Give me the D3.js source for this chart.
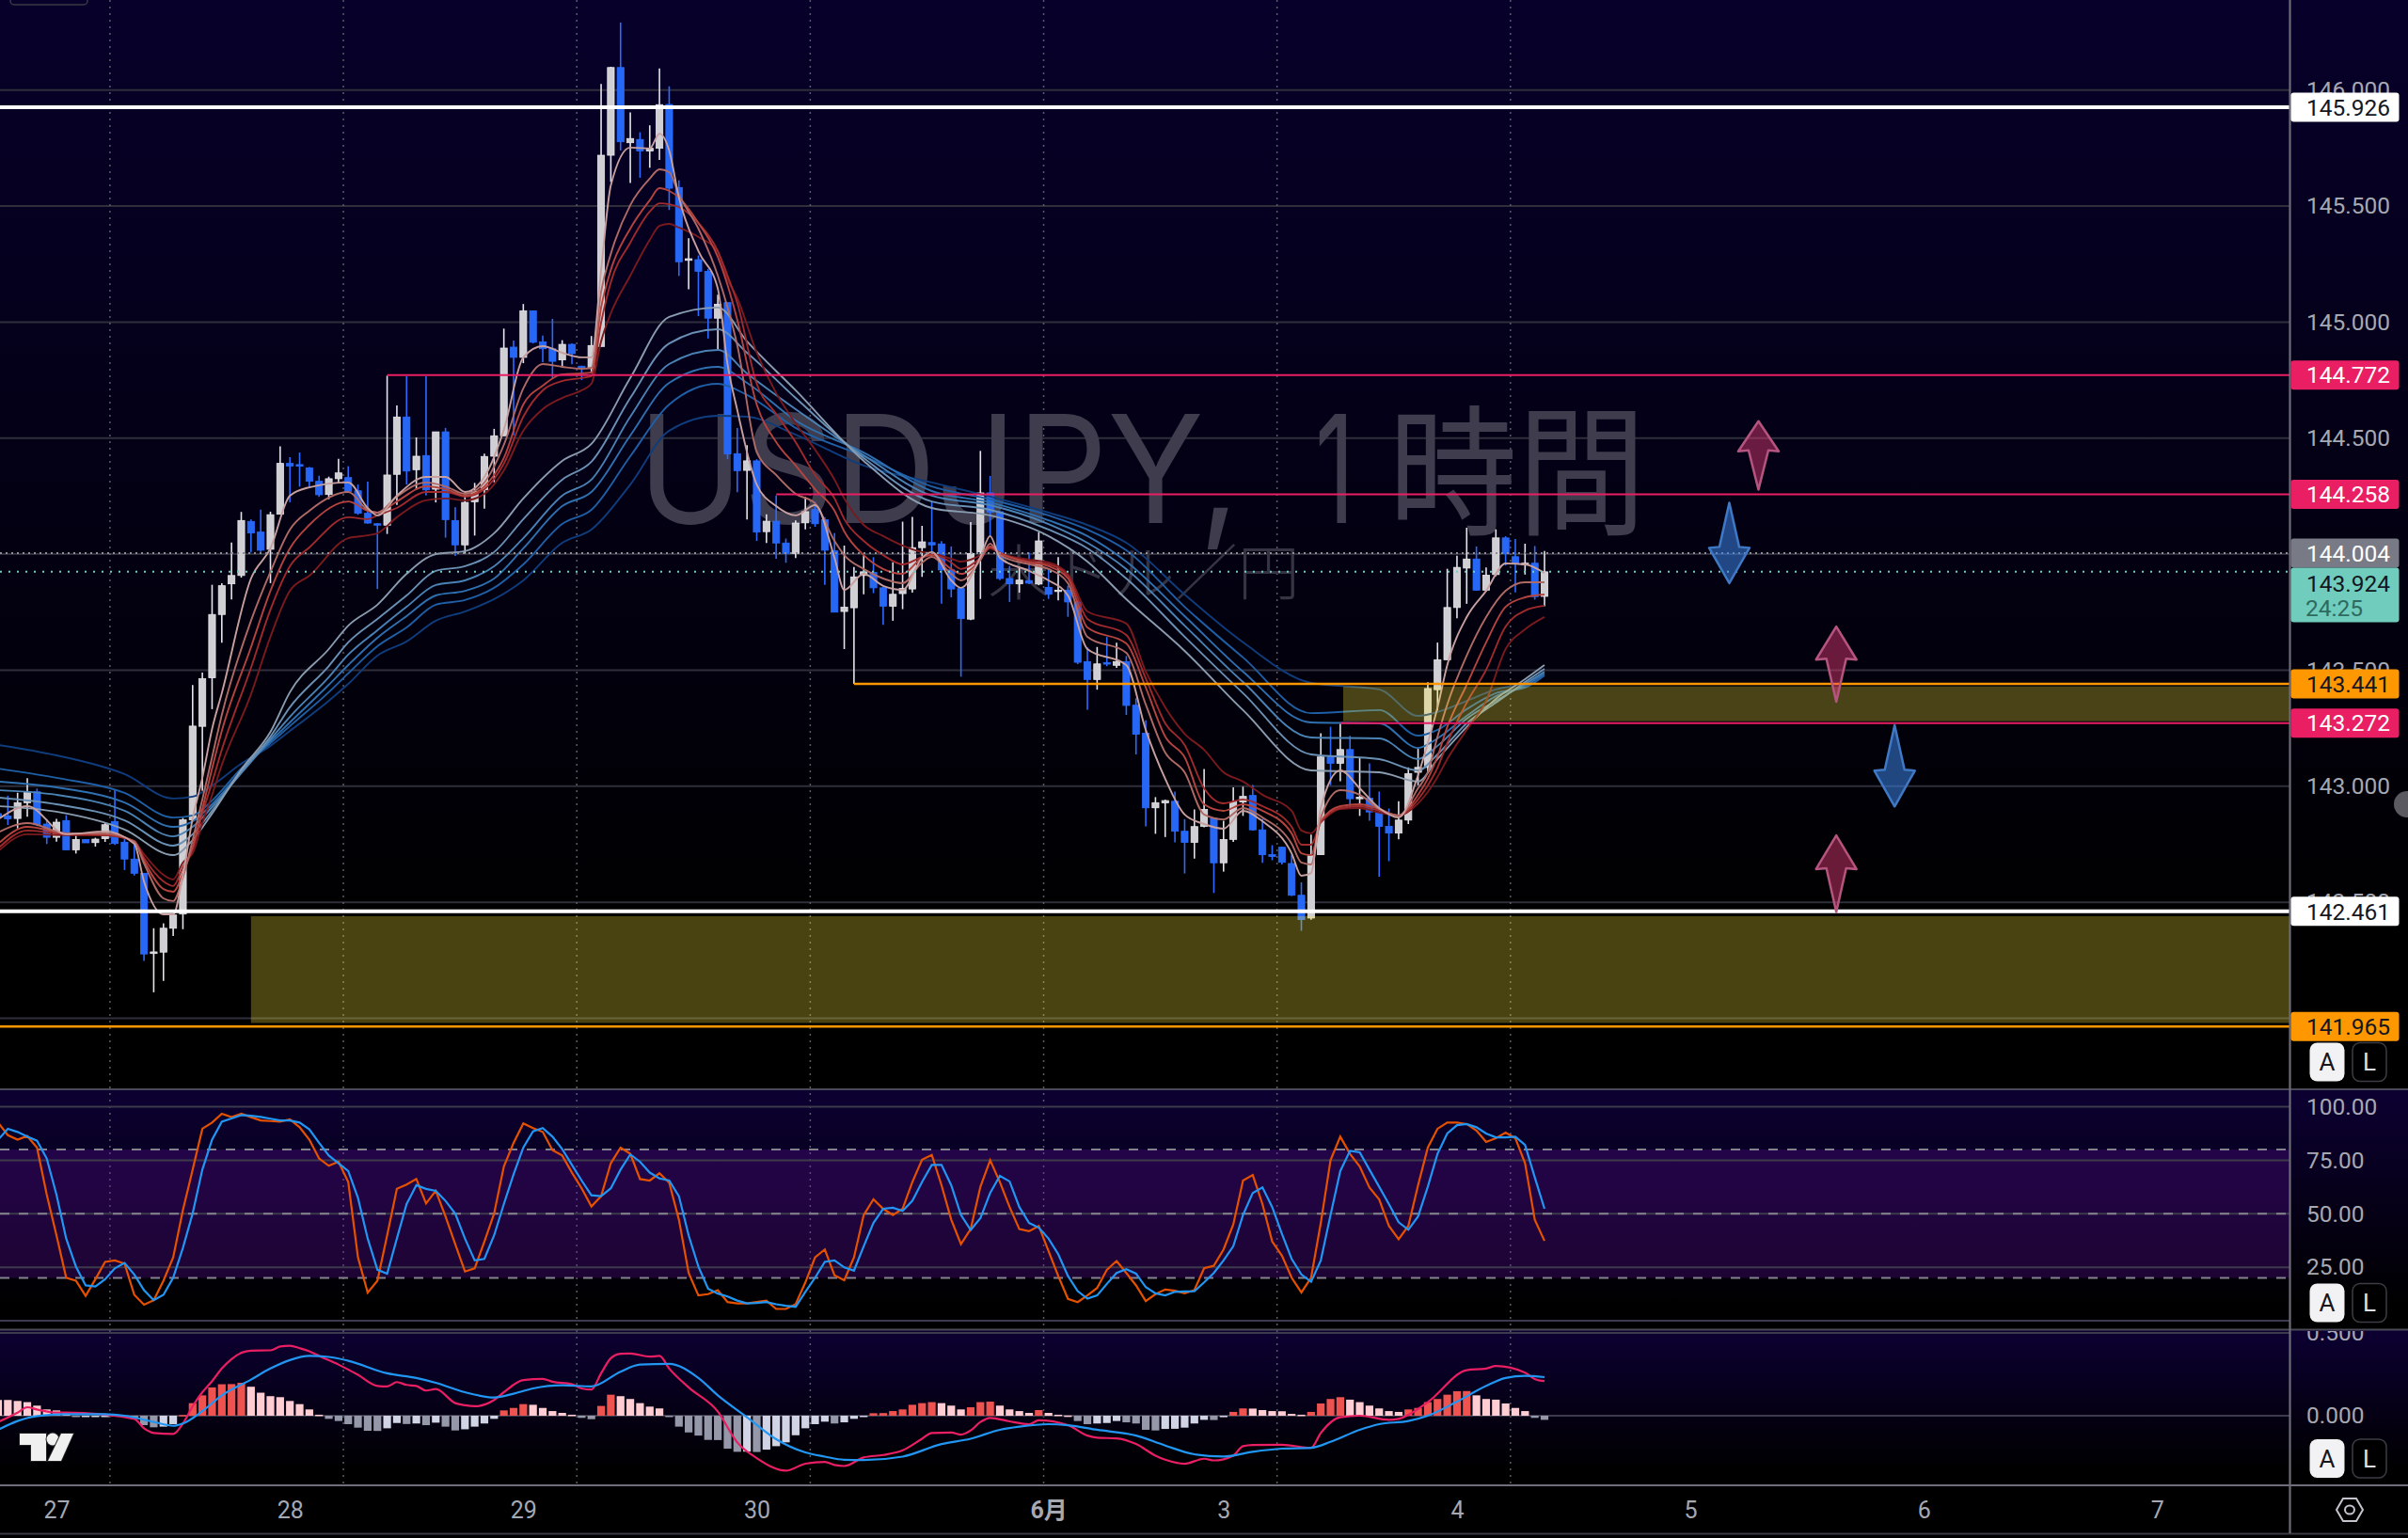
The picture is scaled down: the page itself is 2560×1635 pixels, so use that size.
<!DOCTYPE html>
<html lang="ja"><head><meta charset="utf-8">
<style>html,body{margin:0;background:#000;overflow:hidden}svg{display:block}
text{font-family:Roboto,"Noto Sans CJK JP",sans-serif}</style>
<script src="https://cdn.jsdelivr.net/npm/d3@7/dist/d3.min.js"></script></head><body>
<svg id="c" width="2560" height="1635" viewBox="0 0 2560 1635"></svg>
<script>
const opens=[142.882,142.872,142.861,142.929,142.976,142.837,142.780,142.852,142.726,142.770,142.757,142.774,142.848,142.759,142.686,142.625,142.279,142.285,142.388,142.449,142.855,143.258,143.467,143.740,143.872,143.908,144.141,144.095,144.021,144.172,144.391,144.386,144.372,144.314,144.257,144.325,144.330,144.273,144.176,144.131,144.125,144.344,144.591,144.364,144.425,144.280,144.527,144.145,144.040,144.226,144.277,144.422,144.510,144.892,144.848,145.048,144.915,144.885,144.837,144.904,144.810,144.800,144.895,145.719,146.097,145.773,145.787,145.737,145.749,145.938,145.580,145.266,145.269,145.219,145.017,145.084,144.433,144.361,144.402,144.097,144.142,144.048,144.003,144.135,144.192,144.148,144.014,143.753,143.769,143.908,143.922,143.855,143.776,143.830,143.850,144.028,144.050,144.044,143.932,143.852,143.720,144.010,144.264,144.183,143.895,143.872,143.886,143.871,143.857,143.840,143.845,143.794,143.537,143.460,143.533,143.521,143.537,143.349,143.228,142.907,142.928,142.935,142.806,142.758,142.827,142.862,142.670,142.771,142.932,142.960,142.812,142.705,142.737,142.667,142.530,142.432,142.705,143.126,143.099,143.158,142.946,142.949,142.886,142.827,142.798,142.854,143.060,143.081,143.416,143.545,143.770,143.940,143.979,143.845,143.912,144.070,143.989,143.954,143.961,143.818];
const highs=[142.894,142.959,142.972,143.035,142.990,142.859,142.859,142.875,142.794,142.772,142.778,142.841,142.983,142.774,142.751,142.625,142.388,142.409,142.452,142.864,143.436,143.490,143.868,143.875,144.050,144.182,144.149,144.192,144.183,144.465,144.418,144.438,144.375,144.338,144.334,144.411,144.379,144.300,144.313,144.134,144.769,144.641,144.767,144.503,144.767,144.527,144.544,144.202,144.256,144.307,144.433,144.540,144.972,144.921,145.078,145.050,144.942,145.014,144.922,144.908,144.812,144.940,146.026,146.100,146.291,145.904,145.818,145.848,146.093,146.016,145.611,145.361,145.287,145.229,145.118,145.084,144.544,144.470,144.409,144.172,144.253,144.067,144.145,144.247,144.226,144.159,144.091,144.037,143.945,143.996,143.987,143.859,143.965,144.140,144.161,144.122,144.226,144.056,144.033,143.852,144.138,144.445,144.337,144.186,143.949,143.943,144.006,144.095,143.940,143.987,143.864,143.801,143.598,143.600,143.643,143.618,143.561,143.379,143.284,142.953,142.942,142.977,142.858,142.900,143.074,142.865,142.851,142.995,142.998,143.005,142.858,142.746,142.740,142.705,142.586,142.791,143.228,143.256,143.270,143.217,143.123,143.098,142.977,142.904,142.935,143.081,143.161,143.448,143.619,143.937,143.993,144.114,144.033,143.943,144.107,144.077,144.065,144.045,144.035,144.014];
const lows=[142.857,142.833,142.818,142.868,142.828,142.751,142.761,142.726,142.710,142.756,142.740,142.760,142.747,142.639,142.615,142.247,142.112,142.161,142.355,142.384,142.855,142.980,143.332,143.618,143.805,143.899,144.007,144.010,143.875,144.172,144.223,144.291,144.284,144.247,144.237,144.307,144.267,144.170,144.131,143.850,144.087,144.212,144.300,144.277,144.253,144.223,144.071,143.992,144.002,144.080,144.196,144.310,144.510,144.512,144.823,144.908,144.827,144.756,144.807,144.818,144.750,144.780,144.895,145.604,145.739,145.600,145.622,145.665,145.699,145.483,145.199,145.141,145.026,144.929,144.881,144.409,144.267,144.149,144.057,144.048,143.980,143.963,143.983,144.107,144.118,143.868,143.750,143.591,143.441,143.827,143.832,143.695,143.713,143.763,143.834,143.902,144.010,143.787,143.814,143.472,143.716,143.807,144.077,143.888,143.794,143.834,143.871,143.866,143.807,143.801,143.730,143.526,143.330,143.416,143.517,143.510,143.307,143.137,142.827,142.795,142.781,142.758,142.624,142.688,142.823,142.540,142.632,142.760,142.872,142.809,142.670,142.681,142.663,142.527,142.377,142.425,142.705,143.004,143.021,142.907,142.872,142.851,142.610,142.677,142.771,142.837,143.004,143.060,143.326,143.545,143.724,143.786,143.842,143.839,143.905,143.951,143.835,143.912,143.804,143.775];
const closes=[142.866,142.859,142.929,142.976,142.834,142.780,142.845,142.726,142.770,142.756,142.772,142.834,142.753,142.686,142.625,142.277,142.286,142.388,142.445,142.855,143.259,143.463,143.740,143.864,143.908,144.145,144.091,144.017,144.170,144.391,144.380,144.379,144.314,144.256,144.325,144.350,144.271,144.176,144.134,144.127,144.341,144.591,144.358,144.422,144.277,144.527,144.149,144.040,144.223,144.271,144.421,144.510,144.888,144.848,145.048,144.913,144.885,144.831,144.904,144.864,144.806,144.899,145.719,146.097,145.777,145.791,145.737,145.749,145.937,145.577,145.260,145.273,145.219,145.017,145.077,144.432,144.360,144.402,144.095,144.142,144.048,144.003,144.134,144.183,144.131,144.017,143.750,143.771,143.902,143.924,143.855,143.776,143.827,143.852,144.028,144.053,144.040,143.932,143.850,143.722,144.003,144.264,144.181,143.895,143.872,143.888,143.875,144.057,143.827,143.845,143.794,143.534,143.460,143.527,143.526,143.537,143.348,143.224,142.907,142.929,142.938,142.806,142.758,142.826,142.900,142.670,142.770,142.932,142.956,142.812,142.705,142.697,142.672,142.530,142.425,142.700,143.126,143.099,143.158,142.946,142.953,142.889,142.827,142.798,142.854,143.054,143.081,143.421,143.545,143.770,143.943,143.979,143.845,143.909,144.070,144.002,143.961,143.961,143.817,143.924];

const longKnots=[0,6,13,18,20,22,25,28,30,34,36,39,42,45,48,51,54,58,61,65,69,74,77,82,89,96,102,108,112,116,122,128,135,142,146,148,151,154,157,159];
const long1=[142.914,142.890,142.813,142.703,142.768,142.882,143.072,143.234,143.405,143.591,143.692,143.782,143.915,144.000,144.013,144.090,144.240,144.402,144.475,144.759,145.022,145.063,144.917,144.706,144.402,144.199,144.167,144.078,143.968,143.806,143.583,143.328,143.068,143.060,143.020,143.117,143.255,143.376,143.461,143.522];
const long2=[142.951,142.922,142.853,142.744,142.793,142.894,143.064,143.214,143.340,143.518,143.620,143.721,143.822,143.928,143.948,144.009,144.151,144.321,144.398,144.673,144.908,144.969,144.868,144.673,144.414,144.227,144.191,144.106,144.025,143.895,143.644,143.401,143.137,143.117,143.068,143.137,143.271,143.360,143.449,143.506];
const long3=[142.983,142.963,142.894,142.784,142.825,142.910,143.056,143.202,143.299,143.470,143.567,143.672,143.773,143.867,143.887,143.948,144.069,144.252,144.321,144.592,144.819,144.880,144.779,144.625,144.426,144.252,144.211,144.130,144.049,143.936,143.692,143.449,143.210,143.206,143.117,143.174,143.291,143.368,143.441,143.494];
const long4=[143.020,142.995,142.930,142.825,142.849,142.922,143.064,143.194,143.275,143.437,143.522,143.640,143.733,143.822,143.842,143.895,144.025,144.207,144.268,144.511,144.738,144.807,144.738,144.576,144.438,144.272,144.223,144.146,144.078,143.968,143.733,143.494,143.275,143.271,143.165,143.206,143.303,143.388,143.433,143.486];
const long5=[143.076,143.036,142.971,142.865,142.874,142.938,143.076,143.186,143.259,143.405,143.486,143.603,143.684,143.782,143.802,143.855,143.956,144.130,144.191,144.422,144.645,144.734,144.686,144.544,144.422,144.292,144.236,144.167,144.106,144.017,143.773,143.555,143.315,143.328,143.218,143.243,143.332,143.401,143.425,143.478];
const long6=[143.178,143.133,143.052,142.947,142.955,143.003,143.097,143.174,143.238,143.368,143.441,143.563,143.624,143.713,143.753,143.806,143.887,144.049,144.106,144.300,144.532,144.596,144.592,144.515,144.382,144.309,144.248,144.179,144.126,144.049,143.826,143.620,143.445,143.417,143.303,143.320,143.368,143.417,143.445,143.486];

const shortKnots=[0,3,7,11,14,15,17,18,19,20,21,22,23,26,28,30,32,36,38,39,41,44,46,48,50,52,54,56,58,60,61,62,63,65,67,68,69,70,72,74,75,76,78,80,82,84,86,87,89,91,93,95,96,98,99,101,102,103,106,108,110,112,116,118,120,122,124,126,128,130,133,134,135,136,138,140,142,144,146,147,148,149,151,153,155,157,159];
const short1=[142.857,142.914,142.793,142.805,142.752,142.590,142.448,142.448,142.618,142.861,143.036,143.247,143.401,143.895,144.025,144.252,144.288,144.309,144.199,144.167,144.252,144.333,144.333,144.268,144.333,144.536,144.848,144.896,144.868,144.848,144.848,145.225,145.589,145.752,145.748,145.812,145.739,145.537,145.306,145.144,144.819,144.621,144.300,144.207,144.167,144.211,143.984,143.846,143.915,143.863,143.846,143.984,144.009,143.887,143.855,143.988,144.078,143.984,143.928,143.887,143.822,143.591,143.522,143.243,143.032,142.878,142.837,142.817,142.894,142.849,142.711,142.614,142.626,142.906,143.068,142.991,142.906,142.865,143.048,143.186,143.340,143.522,143.729,143.842,143.960,143.956,143.919];
const short2=[142.801,142.841,142.797,142.797,142.760,142.667,142.517,142.505,142.606,142.768,142.943,143.125,143.307,143.713,143.924,144.106,144.187,144.268,144.191,144.179,144.248,144.309,144.292,144.260,144.309,144.471,144.714,144.819,144.807,144.799,144.803,145.131,145.294,145.504,145.618,145.658,145.646,145.549,145.403,145.200,145.063,144.900,144.442,144.341,144.260,144.219,144.057,143.996,143.936,143.895,143.875,143.964,143.988,143.915,143.887,143.976,144.045,143.996,143.956,143.936,143.875,143.644,143.575,143.352,143.145,143.060,142.878,142.857,142.906,142.865,142.752,142.671,142.663,142.865,142.983,142.963,142.902,142.874,142.991,143.060,143.214,143.352,143.563,143.729,143.842,143.879,143.879];
const short3=[142.752,142.825,142.797,142.793,142.764,142.679,142.557,142.545,142.626,142.740,142.902,143.076,143.238,143.599,143.842,144.025,144.126,144.227,144.187,144.179,144.227,144.292,144.280,144.252,144.292,144.414,144.645,144.726,144.775,144.779,144.783,145.063,145.225,145.403,145.525,145.577,145.565,145.537,145.427,145.281,145.160,145.010,144.645,144.483,144.382,144.280,144.187,144.098,143.996,143.936,143.915,143.984,143.996,143.936,143.915,143.976,144.033,144.005,143.964,143.948,143.895,143.684,143.615,143.425,143.214,143.125,142.922,142.894,142.922,142.894,142.797,142.711,142.703,142.849,142.914,142.922,142.902,142.874,142.963,143.032,143.129,143.255,143.437,143.620,143.773,143.814,143.826];
const short4=[142.732,142.809,142.793,142.789,142.764,142.691,142.590,142.570,142.651,142.728,142.882,143.016,143.157,143.510,143.761,143.948,144.029,144.159,144.151,144.167,144.199,144.268,144.268,144.248,144.280,144.390,144.592,144.706,144.746,144.759,144.767,144.998,145.172,145.342,145.476,145.512,145.508,145.496,145.427,145.306,145.200,145.083,144.734,144.604,144.483,144.341,144.240,144.151,144.057,143.996,143.956,143.988,144.000,143.964,143.936,143.984,144.029,144.005,143.968,143.956,143.907,143.721,143.652,143.465,143.271,143.178,142.991,142.926,142.943,142.914,142.825,142.748,142.748,142.845,142.906,142.914,142.894,142.874,142.943,143.003,143.080,143.186,143.360,143.502,143.688,143.757,143.778];
const short5=[142.720,142.793,142.789,142.789,142.760,142.707,142.618,142.598,142.671,142.711,142.841,142.963,143.092,143.396,143.644,143.842,143.907,144.069,144.081,144.090,144.159,144.232,144.240,144.232,144.260,144.361,144.532,144.625,144.673,144.706,144.734,144.917,145.038,145.200,145.354,145.415,145.423,145.407,145.367,145.302,145.184,145.103,144.868,144.694,144.564,144.450,144.321,144.240,144.126,144.078,144.037,144.009,144.005,143.980,143.968,143.996,144.025,144.005,143.976,143.964,143.915,143.753,143.701,143.494,143.340,143.226,143.157,143.060,143.020,142.963,142.894,142.809,142.797,142.845,142.902,142.906,142.886,142.874,142.926,142.975,143.040,143.117,143.243,143.368,143.591,143.676,143.729];

const stochK=[92.6,86.7,84.6,86.3,80.9,58.9,39.9,20.1,18.7,11.6,19.4,27.5,28.2,26.7,12.1,7.5,9.6,18.7,29.6,51.6,70.6,89.7,92.6,96.7,95.1,96.7,95.1,93.6,93.3,93.0,94.1,90.4,84.6,75.8,72.4,74.3,64.8,29.6,13.1,18.7,39.9,61.6,63.6,66.2,54.8,60.7,48.7,35.8,23.0,24.5,37.0,50.1,72.1,83.1,92.2,90.0,88.2,79.7,77.2,69.2,61.9,53.4,58.2,73.6,80.9,78.0,66.2,65.5,68.9,64.5,47.2,22.3,11.8,12.4,14.3,8.7,8.1,8.1,8.8,9.4,5.5,5.5,7.7,17.9,29.6,33.3,21.2,18.9,29.6,49.4,56.7,52.3,49.4,52.3,64.8,75.3,77.5,63.3,47.2,35.8,42.8,62.6,75.0,64.8,53.1,42.8,41.8,44.3,32.6,20.9,10.2,8.7,11.8,15.3,23.8,27.9,22.3,16.5,9.2,12.4,14.6,14.0,12.8,14.3,24.5,25.7,33.3,45.0,65.5,68.1,54.5,37.0,30.4,20.1,13.2,20.1,45.7,75.0,86.0,78.0,72.1,62.2,56.7,44.3,38.1,44.3,63.3,80.9,89.7,92.6,92.6,91.9,88.9,83.5,85.3,87.9,85.3,73.6,47.2,37.3];
const stochD=[84.6,89.7,88.2,86.0,84.1,75.8,58.9,38.4,25.3,16.5,16.0,19.4,24.5,27.0,21.6,14.3,9.6,12.1,20.1,34.0,50.1,70.6,84.6,93.0,94.5,96.1,95.8,95.2,94.4,93.6,93.6,92.6,89.4,83.1,77.2,73.6,69.9,57.4,38.4,23.8,22.0,38.4,54.5,63.3,61.6,60.7,56.0,50.1,38.4,28.2,28.9,39.9,54.5,68.4,80.9,88.5,90.0,86.0,80.2,72.8,65.5,58.6,58.2,61.9,70.6,77.7,74.3,69.2,66.5,65.5,58.2,39.9,25.3,15.0,12.7,11.3,9.4,8.1,8.3,8.7,7.7,7.0,6.5,13.5,20.1,27.5,28.2,24.9,23.4,34.8,45.7,52.3,52.8,51.3,56.0,64.8,72.8,72.8,63.3,49.4,42.4,47.9,59.7,67.7,65.1,53.1,45.7,43.5,38.4,31.1,20.9,13.8,10.3,11.8,17.2,22.3,24.1,22.0,15.7,12.8,11.8,13.5,13.7,13.8,17.9,22.3,28.2,34.8,49.4,59.7,62.3,53.1,40.6,28.9,21.6,18.2,28.2,49.4,69.9,79.4,78.7,70.6,62.6,54.5,46.0,42.5,48.7,62.6,78.0,87.5,91.4,91.9,90.4,87.5,85.7,85.7,86.0,82.1,67.0,52.3];

const macdHist=[.095,.095,.089,.082,.061,.038,.032,.019,-.006,-.004,-.004,-.004,.004,-.006,-.019,-.057,-.070,-.066,-.051,.004,.076,.123,.171,.190,.191,.199,.175,.139,.118,.112,.089,.070,.038,.006,-.019,-.032,-.051,-.072,-.091,-.092,-.076,-.044,-.050,-.047,-.057,-.042,-.066,-.089,-.082,-.066,-.047,-.019,.032,.047,.070,.066,.047,.028,.017,.006,-.013,-.021,.059,.127,.118,.101,.076,.055,.044,-.002,-.066,-.101,-.120,-.146,-.147,-.199,-.218,-.217,-.219,-.205,-.184,-.161,-.118,-.076,-.051,-.036,-.047,-.040,-.019,-.004,.015,.016,.028,.038,.066,.076,.082,.076,.061,.038,.051,.082,.085,.061,.038,.028,.017,.034,.017,.006,.001,-.032,-.051,-.047,-.044,-.032,-.040,-.047,-.085,-.089,-.080,-.079,-.072,-.047,-.025,-.026,-.009,.023,.044,.043,.034,.028,.027,.011,.006,.023,.074,.101,.112,.097,.082,.061,.044,.028,.023,.038,.047,.082,.101,.127,.148,.149,.123,.101,.097,.074,.047,.028,-.013,-.025];
const macdKnots=[0,2,3,4,6,7,14,15,16,18,19,20,21,22,23,24,25,26,28,29,30,31,32,33,35,37,39,40,41,42,43,44,45,47,48,49,51,52,54,56,57,59,60,61,62,63,64,65,67,68,69,71,74,76,78,81,83,85,86,87,89,91,93,95,96,98,99,100,101,102,104,106,107,110,112,113,115,117,119,120,122,124,125,127,128,129,132,135,136,138,140,143,144,147,151,153,154,157,158,159];
const macdLine=[-.038,.019,.051,.038,.019,.019,-.019,-.076,-.104,-.110,-.047,.057,.142,.209,.285,.342,.380,.393,.395,.418,.423,.408,.389,.361,.309,.247,.180,.177,.203,.186,.180,.152,.161,.076,.063,.057,.095,.142,.215,.222,.205,.190,.165,.158,.256,.347,.374,.376,.357,.361,.285,.171,.025,-.161,-.256,-.332,-.290,-.279,-.298,-.304,-.252,-.237,-.209,-.139,-.104,-.101,-.114,-.089,-.038,-.013,-.034,-.051,-.028,-.057,-.120,-.133,-.137,-.171,-.241,-.266,-.290,-.260,-.270,-.241,-.184,-.177,-.175,-.194,-.104,-.009,.000,-.025,-.019,.082,.275,.285,.300,.260,.222,.209];
const signalKnots=[0,2,4,7,11,13,16,18,19,21,23,26,28,30,32,34,36,40,43,45,48,51,53,55,58,61,64,66,69,72,74,77,80,83,85,87,89,93,97,100,103,105,108,110,113,117,120,123,126,129,132,135,137,140,142,145,147,150,153,155,157,159];
const signalLine=[-.085,-.032,-.002,.009,.009,.000,-.038,-.061,-.047,.028,.123,.218,.285,.336,.361,.355,.332,.256,.228,.199,.142,.110,.133,.165,.184,.177,.266,.309,.313,.228,.123,-.009,-.142,-.222,-.247,-.266,-.268,-.247,-.171,-.139,-.085,-.066,-.051,-.057,-.085,-.120,-.180,-.233,-.247,-.218,-.199,-.194,-.158,-.085,-.051,-.032,.000,.085,.180,.228,.241,.233];

const gridPrices=[146,145.5,145,144.5,144,143.5,143,142.5,142];
const priceTicks=[146,145.5,145,144.5,143.5,143,142.5];
const stochTicks=[100,75,50,25];
const stochBands=[80,50,20];
const macdTicks=[.5,0];
const dayTickIndex=[6,30,54,78,108,126,150,174,198,222];
const dayTickLabels=['27','28','29','30','6月','3','4','5','6','7'];
const dayGridIndex=[11.5,35.5,59.5,83.5,107.5,131.5,155.5];
const levelPrices=[145.926,144.772,144.258,144.004,143.441,143.272,142.461,141.965];
const lastPrice=143.924, countdown='24:25';
const levelLineStart=[null,40,80,null,88,138,null,null];
const levelLineClass=['w','r','r','d','o','r','w','o'];
const zonePrices=[[142.44,141.98,26],[143.43,143.28,138.3]];
const arrowIndex=[181,178,189,195,189];
const arrowFrom=[144.278,144.221,143.364,143.263,142.458];
const arrowTo=[144.573,143.875,143.688,142.913,142.788];

const W=2434,svg=d3.select('#c');
const x=d3.scaleLinear().domain([0,159]).range([-2,1642]);
const y=d3.scaleLinear().domain([146,142]).range([95.7,1082.5]);
const yS=d3.scaleLinear().domain([100,0]).range([1176.5,1404]);
const yM=d3.scaleLinear().domain([.5,0]).range([1417,1505]);
const panes=[[0,1158,'gm','#07002a',.86],[1158,1413.5,'gs','#0c0032',.9],[1413.5,1579,'gh','#0c0032',.9]];
const defs=svg.append('defs');
panes.forEach(p=>{
  const g=defs.append('linearGradient').attr('id',p[2]).attr('x1',0).attr('x2',0).attr('y1',0).attr('y2',1);
  g.append('stop').attr('offset',0).attr('stop-color',p[3]);
  g.append('stop').attr('offset',p[4]).attr('stop-color','#000');
});
defs.append('clipPath').attr('id','plot').append('rect').attr('width',W).attr('height',1158);
defs.append('clipPath').attr('id','mclip').append('rect').attr('x',2436).attr('y',1415).attr('width',124).attr('height',164);
svg.append('rect').attr('width',2560).attr('height',1635).attr('fill','#000');
panes.forEach(p=>svg.append('rect').attr('y',p[0]).attr('width',2560).attr('height',p[1]-p[0]).attr('fill',`url(#${p[2]})`));

// grids
const gc='#2f2f3b';
svg.append('g').selectAll('line').data(gridPrices).join('line').attr('x1',0).attr('x2',W).attr('y1',d=>y(d)).attr('y2',d=>y(d)).attr('stroke',gc).attr('stroke-width',2);
svg.append('g').selectAll('line').data(dayGridIndex).join('line').attr('x1',d=>x(d)).attr('x2',d=>x(d)).attr('y1',0).attr('y2',1579).attr('stroke','#5c5c68').attr('stroke-width',1.5).attr('stroke-dasharray','2 5');

// watermark
const wm=svg.append('g').attr('clip-path','url(#plot)');
const wmFill='#3e3c4d',wmFont='Inter,"Noto Sans CJK JP",sans-serif';
const wmText=(s,x0,y0,len,fs,col,wt)=>wm.append('text').attr('x',x0).attr('y',y0).attr('textLength',len).attr('lengthAdjust','spacingAndGlyphs').attr('font-size',fs).attr('font-weight',wt).attr('fill',col).style('font-family',wmFont).text(s);
wmText('USDJPY,',678,556,640,160,wmFill,400);
wmText('1',1398,556,42,160,wmFill,400);
wmText('時間',1476,557,274,150,wmFill,400);
wmText('米ドル／円',1050,632,332,64,'#363442',300);

// candles
const idx=d3.range(opens.length);
const main=svg.append('g').attr('clip-path','url(#plot)');
const up=i=>closes[i]>=opens[i];
main.append('g').selectAll('line').data(idx).join('line').attr('x1',i=>x(i)).attr('x2',i=>x(i)).attr('y1',i=>y(highs[i])).attr('y2',i=>y(lows[i])).attr('stroke',i=>up(i)?'#e4e5ea':'#2d6bff').attr('stroke-width',1.6);
main.append('g').selectAll('rect').data(idx).join('rect').attr('x',i=>x(i)-3.6).attr('width',7.2)
 .attr('y',i=>y(Math.max(opens[i],closes[i]))).attr('height',i=>Math.max(1.5,Math.abs(y(opens[i])-y(closes[i]))))
 .attr('fill',i=>up(i)?'#cfcfd4':'#2668f5').attr('stroke',i=>up(i)?'#e8e8ec':'#2a6cff').attr('stroke-width',.8);

// guppy lines
const lineK=(kn,sc)=>d3.line().x((d,i)=>x(kn[i])).y(d=>sc(d)).curve(d3.curveMonotoneX);
const longs=[long6,long5,long4,long3,long2,long1],longCols=['#0f3c7c','#1f5fa6','#2f70b0','#4a82b4','#6a90b4','#8a9cb0'];
longs.forEach((s,i)=>main.append('path').attr('d',lineK(longKnots,y)(s)).attr('fill','none').attr('stroke',longCols[i]).attr('stroke-width',1.9));
const shorts=[short5,short4,short3,short2,short1],shortCols=['#7a1a1e','#a02a2c','#b5443f','#b06a66','#c8a0a0'];
shorts.forEach((s,i)=>main.append('path').attr('d',lineK(shortKnots,y)(s)).attr('fill','none').attr('stroke',shortCols[i]).attr('stroke-width',1.9));

// levels
const lvlStyle={w:['#fff',4,null],r:['#e91e63',2,null],o:['#ff9800',2.5,null],d:['#8e8e98',2,'2 4']};
levelPrices.forEach((p,i)=>{const s=lvlStyle[levelLineClass[i]];
  main.append('line').attr('x1',levelLineStart[i]==null?0:x(levelLineStart[i])).attr('x2',W).attr('y1',y(p)).attr('y2',y(p)).attr('stroke',s[0]).attr('stroke-width',s[1]).attr('stroke-dasharray',s[2]);});
main.append('line').attr('x1',0).attr('x2',W).attr('y1',y(lastPrice)).attr('y2',y(lastPrice)).attr('stroke','#6fd0c0').attr('stroke-width',2).attr('stroke-dasharray','2 7');

// zones
main.append('g').selectAll('rect').data(zonePrices).join('rect').attr('x',d=>x(d[2])).attr('width',d=>W-x(d[2])).attr('y',d=>y(d[0])).attr('height',d=>y(d[1])-y(d[0])).attr('fill','#ffeb3b').attr('fill-opacity',.285);

// arrows
main.append('g').selectAll('path').data(d3.range(arrowIndex.length)).join('path').attr('d',i=>{
  const cx=x(arrowIndex[i]),a=y(arrowTo[i]),b=y(arrowFrom[i]),wy=a+(b-a)*.44;
  return `M${cx},${a}L${cx+21.5},${wy}L${cx+10.5},${wy-1}L${cx},${b}L${cx-10.5},${wy-1}L${cx-21.5},${wy}Z`;
}).attr('fill',i=>arrowTo[i]>arrowFrom[i]?'rgba(233,60,120,.45)':'rgba(60,130,230,.55)')
  .attr('stroke',i=>arrowTo[i]>arrowFrom[i]?'#b5557f':'#3f78c4').attr('stroke-width',2.5).attr('stroke-linejoin','round');

// stochastic pane
const sg=svg.append('g');
sg.append('rect').attr('width',W).attr('y',yS(stochBands[0])).attr('height',yS(stochBands[2])-yS(stochBands[0])).attr('fill','#6a0dad').attr('fill-opacity',.27);
sg.selectAll('.g').data(stochTicks.concat(0)).join('line').attr('x1',0).attr('x2',W).attr('y1',d=>yS(d)).attr('y2',d=>yS(d)).attr('stroke','#3c3a4c').attr('stroke-width',2);
sg.selectAll('.b').data(stochBands).join('line').attr('x1',0).attr('x2',W).attr('y1',d=>yS(d)).attr('y2',d=>yS(d)).attr('stroke','#84828e').attr('stroke-width',2).attr('stroke-dasharray','10 10');
const perBar=sc=>d3.line().x((d,i)=>x(i)).y(d=>sc(d));
sg.append('path').attr('d',perBar(yS)(stochK)).attr('fill','none').attr('stroke','#e65100').attr('stroke-width',2.2);
sg.append('path').attr('d',perBar(yS)(stochD)).attr('fill','none').attr('stroke','#2196f3').attr('stroke-width',2.2);

// macd pane
const mg=svg.append('g');
mg.selectAll('.g').data(macdTicks).join('line').attr('x1',0).attr('x2',W).attr('y1',d=>yM(d)).attr('y2',d=>yM(d)).attr('stroke','#3c3a4c').attr('stroke-width',2);
const barCol=i=>{const v=macdHist[i],p=i?macdHist[i-1]:v;return v>=0?(v>p?'#ef5350':'#ffcdd2'):(v<p?'#9598a8':'#d1d4e4');};
mg.append('g').selectAll('rect').data(idx).join('rect').attr('x',i=>x(i)-4.1).attr('width',8.2)
 .attr('y',i=>Math.min(yM(macdHist[i]),yM(0))).attr('height',i=>Math.max(1.5,Math.abs(yM(macdHist[i])-yM(0)))).attr('fill',barCol);
mg.append('path').attr('d',lineK(macdKnots,yM)(macdLine)).attr('fill','none').attr('stroke','#e91e63').attr('stroke-width',2.2);
mg.append('path').attr('d',lineK(signalKnots,yM)(signalLine)).attr('fill','none').attr('stroke','#2196f3').attr('stroke-width',2.2);

// separators
[[1158,'#4a4a56'],[1413.5,'#4a4a56'],[1579,'#70707c'],[1630.5,'#3c3c44']].forEach(s=>svg.append('line').attr('x1',0).attr('x2',2560).attr('y1',s[0]).attr('y2',s[0]).attr('stroke',s[1]).attr('stroke-width',2));
svg.append('rect').attr('x',11).attr('y',-6).attr('width',82).attr('height',11).attr('rx',4).attr('fill','none').attr('stroke','#3a3a44').attr('stroke-width',1.5);

// axes
const axisStyle=g=>{g.select('.domain').remove();g.selectAll('line').remove();g.selectAll('text').attr('fill','#a6a8b2').attr('font-size',24.5).style('font-family','Roboto,"Noto Sans CJK JP",sans-serif');};
const ax=d3.axisRight;
svg.append('g').attr('transform',`translate(${W},0)`).call(ax(y).tickValues(priceTicks).tickSize(0).tickPadding(18).tickFormat(d3.format('.3f'))).call(axisStyle);
svg.append('g').attr('transform',`translate(${W},0)`).call(ax(yS).tickValues(stochTicks).tickSize(0).tickPadding(18).tickFormat(d3.format('.2f'))).call(axisStyle);
svg.append('g').attr('clip-path','url(#mclip)').append('g').attr('transform',`translate(${W},0)`).call(ax(yM).tickValues(macdTicks).tickSize(0).tickPadding(18).tickFormat(d3.format('.3f'))).call(axisStyle);
svg.append('g').attr('transform','translate(0,1593)').call(d3.axisBottom(x).tickValues(dayTickIndex).tickSize(0).tickPadding(0).tickFormat((d,i)=>dayTickLabels[i])).call(axisStyle)
  .selectAll('text').attr('font-size',25).attr('font-weight',(d,i)=>dayTickLabels[i]=='6月'?700:400).attr('dy','.72em').attr('transform','translate(0,3)');

svg.append('line').attr('x1',W+.5).attr('x2',W+.5).attr('y1',0).attr('y2',1630).attr('stroke','#6c6c78').attr('stroke-width',2.2);

// right side price labels
const boxCol={w:['#fff','#131722'],r:['#e91e63','#fff'],o:['#ff9800','#131722'],d:['#787b86','#fff']};
const lab=svg.append('g');
levelPrices.forEach((p,i)=>{const c=boxCol[levelLineClass[i]],cy=y(p);
  lab.append('rect').attr('x',W+1.5).attr('y',cy-15.5).attr('width',115).attr('height',31).attr('rx',3).attr('fill',c[0]);
  lab.append('text').attr('x',2452).attr('y',cy+8.8).attr('font-size',24.5).attr('fill',c[1]).text(d3.format('.3f')(p));});
const lastTop=y(levelPrices[3])+15.5;
lab.append('rect').attr('x',W+1.5).attr('y',lastTop).attr('width',115).attr('height',58).attr('rx',3).attr('fill','#70ccbd');
lab.append('text').attr('x',2452).attr('y',lastTop+25).attr('font-size',24.5).attr('fill','#131722').text(d3.format('.3f')(lastPrice));
lab.append('text').attr('x',2451).attr('y',lastTop+51).attr('font-size',24.5).attr('fill','#2d6a5f').text(countdown);

// A / L buttons
[1108.5,1364.5,1530].forEach(t=>{
  svg.append('rect').attr('x',2455.5).attr('y',t).attr('width',37).attr('height',41).attr('rx',8).attr('fill','#f2f2f4');
  svg.append('text').attr('x',2474).attr('y',t+29.5).attr('text-anchor','middle').attr('font-size',26).attr('fill','#131722').text('A');
  svg.append('rect').attr('x',2501).attr('y',t).attr('width',36).attr('height',41).attr('rx',8).attr('fill','#000').attr('stroke','#3c3c44').attr('stroke-width',1.5);
  svg.append('text').attr('x',2519).attr('y',t+29.5).attr('text-anchor','middle').attr('font-size',26).attr('fill','#e0e0e4').text('L');
});
// settings icon
svg.append('path').attr('d','M2484,1605L2491,1593H2505L2512,1605L2505,1617H2491Z').attr('fill','none').attr('stroke','#c4c4cc').attr('stroke-width',2);
svg.append('ellipse').attr('cx',2498).attr('cy',1605).attr('rx',5).attr('ry',4.5).attr('fill','none').attr('stroke','#c4c4cc').attr('stroke-width',2);
// scroll handle
svg.append('circle').attr('cx',2559).attr('cy',855).attr('r',14).attr('fill','#5a5a60');
// logo
const lg=svg.append('g').attr('fill','#f0f0f0').attr('stroke','#222').attr('stroke-width',2).attr('paint-order','stroke');
lg.append('path').attr('d','M21,1524H49V1553H33V1536H21Z');
lg.append('circle').attr('cx',56).attr('cy',1530).attr('r',6.5);
lg.append('path').attr('d','M65,1524H78L65,1553H51Z');
</script></body></html>
